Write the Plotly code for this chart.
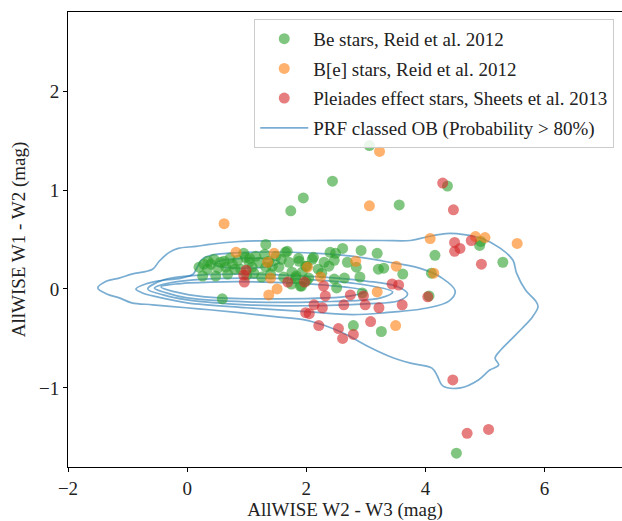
import plotly.graph_objects as go

# ---------------- data ----------------
be_x = [3.06, 2.44, 1.95, 1.74, 3.56, 4.37, 4.52, 0.59, 2.79, 3.26, 5.30, 4.91, 4.93, 4.16, 4.10,
        4.06, 3.62, 3.30, 3.21, 3.19, 2.92, 2.84, 2.90, 2.94, 2.69, 2.61, 2.49, 2.40, 2.47, 2.38,
        2.26, 2.47, 2.64, 2.51, 2.12, 2.01, 1.87, 1.83, 1.92, 1.68, 1.32,
        0.20, 0.28, 0.26, 0.40, 0.48, 0.56, 0.65, 0.62, 0.68, 0.76, 0.98, 1.04, 1.09, 1.15, 1.21,
        1.32, 1.37, 1.43, 1.49, 1.54, 1.65, 1.71, 1.76, 1.82, 1.88, 1.93, 1.99, 2.04, 2.10, 1.90,
        0.34, 0.52, 0.72, 0.85, 0.90, 1.00, 1.12, 1.25, 1.40, 0.95, 1.58, 1.62, 0.45, 0.35, 1.05,
        0.80, 1.30, 2.30, 2.00, 1.75, 2.20]
be_y = [1.45, 1.09, 0.92, 0.79, 0.85, 1.04, -1.66, -0.10, -0.37, -0.43, 0.27, 0.44, 0.48, 0.34, 0.16,
        -0.07, 0.15, 0.21, 0.20, 0.36, 0.39, 0.22, 0.12, -0.04, 0.27, 0.41, 0.36, 0.37, 0.29, 0.23,
        0.16, 0.10, 0.11, 0.01, 0.32, 0.23, 0.31, 0.13, 0.03, 0.38, 0.45,
        0.22, 0.25, 0.13, 0.25, 0.13, 0.27, 0.22, 0.28, 0.15, 0.25, 0.32, 0.27, 0.22, 0.33, 0.27,
        0.22, 0.28, 0.23, 0.33, 0.22, 0.37, 0.27, 0.17, 0.11, 0.28, 0.17, 0.23, 0.11, 0.30, 0.03,
        0.20, 0.21, 0.31, 0.29, 0.20, 0.14, 0.16, 0.12, 0.15, 0.36, 0.30, 0.12, 0.30, 0.28, 0.31,
        0.20, 0.35, 0.27, 0.08, 0.05, 0.20]

bes_x = [3.23, 3.06, 0.62, 4.08, 4.84, 5.00, 5.54, 4.14, 3.51, 2.83, 3.19, 3.50, 2.24, 2.02,
         1.37, 1.51, 1.40, 1.46, 0.82, 1.35]
bes_y = [1.39, 0.84, 0.66, 0.51, 0.53, 0.52, 0.46, 0.16, 0.23, 0.28, -0.03, -0.37, 0.12, 0.22,
         -0.06, 0.00, 0.11, 0.36, 0.37, 0.27]

ple_x = [4.29, 4.47, 4.49, 4.77, 4.58, 4.49, 4.94, 4.46, 4.70, 5.06, 4.04, 3.55, 3.44, 3.61,
         3.22, 2.99, 2.96, 2.74, 2.63, 3.08, 2.79, 2.61, 2.54, 2.21, 2.32, 2.29, 2.13, 2.27,
         1.99, 2.05, 1.97, 1.69, 0.96, 0.95, 0.99]
ple_y = [1.07, 0.80, 0.47, 0.49, 0.41, 0.38, 0.25, -0.92, -1.46, -1.42, -0.08, 0.04, 0.05, -0.16,
         -0.19, -0.16, -0.07, -0.06, -0.16, -0.33, -0.46, -0.50, -0.40, -0.37, -0.07, 0.03, -0.16, -0.19,
         -0.24, -0.25, 0.07, 0.07, 0.07, 0.14, 0.19]

# density contour levels of PRF classed OB
lvl_a_x = [-1.50, -1.35, -1.14, -0.93, -0.58, -0.47, -0.30, -0.15, 0.15, 0.37, 0.87, 2.07, 3.27, 3.75,
           4.05, 4.35, 4.65, 4.95, 5.26, 5.47, 5.53, 5.68, 5.86, 5.89, 5.80, 5.62, 5.44, 5.26, 5.17,
           5.23, 5.08, 4.89, 4.59, 4.29, 4.20, 4.11, 3.75, 3.39, 3.03, 2.67, 2.31, 1.95, 1.47, 0.87,
           0.37, -0.02, -0.58, -0.93, -1.14, -1.35, -1.50]
lvl_a_y = [0.01, 0.08, 0.11, 0.15, 0.20, 0.28, 0.37, 0.41, 0.43, 0.45, 0.48, 0.49, 0.49, 0.49,
           0.53, 0.56, 0.55, 0.51, 0.41, 0.29, 0.16, -0.01, -0.13, -0.18, -0.28, -0.40, -0.51, -0.62, -0.70,
           -0.77, -0.82, -0.92, -1.00, -0.98, -0.88, -0.80, -0.75, -0.68, -0.58, -0.46, -0.37, -0.31, -0.28, -0.24,
           -0.21, -0.19, -0.16, -0.14, -0.09, -0.05, 0.01]
lvl_b_x = [-0.86, -0.70, -0.50, -0.10, 0.10, 0.17, 0.25, 0.40, 1.00, 2.20, 2.80, 3.30, 3.90, 4.28,
           4.50, 4.40, 4.05, 3.33, 2.77, 2.00, 1.00, 0.00, -0.50, -0.75, -0.86]
lvl_b_y = [0.00, 0.05, 0.08, 0.11, 0.15, 0.22, 0.30, 0.34, 0.37, 0.36, 0.33, 0.28, 0.21, 0.11,
           -0.02, -0.12, -0.19, -0.24, -0.26, -0.23, -0.19, -0.14, -0.08, -0.04, 0.00]
lvl_c_x = [-0.66, -0.40, 0.20, 1.00, 2.00, 3.00, 3.50, 3.70, 3.55, 3.00, 2.00, 1.00, 0.00, -0.40, -0.66]
lvl_c_y = [0.00, 0.09, 0.14, 0.15, 0.13, 0.08, 0.03, -0.05, -0.12, -0.15, -0.17, -0.16, -0.11, -0.06, 0.00]
lvl_d_x = [-0.55, -0.30, 0.30, 1.20, 2.20, 3.00, 3.45, 3.25, 2.20, 1.00, 0.00, -0.35, -0.55]
lvl_d_y = [0.01, 0.06, 0.10, 0.11, 0.09, 0.04, -0.03, -0.09, -0.13, -0.13, -0.09, -0.04, 0.01]
lvl_e_x = [-0.44, -0.20, 0.40, 1.30, 2.30, 3.00, 2.75, 1.50, 0.30, -0.20, -0.44]
lvl_e_y = [0.02, 0.05, 0.07, 0.07, 0.04, -0.02, -0.07, -0.10, -0.08, -0.03, 0.02]
lvl_f_x = [0.45, 0.60, 1.00, 1.40, 1.55, 1.40, 1.00, 0.60, 0.45]
lvl_f_y = [0.25, 0.29, 0.31, 0.30, 0.27, 0.23, 0.21, 0.22, 0.25]

levels = [(lvl_a_x, lvl_a_y), (lvl_b_x, lvl_b_y), (lvl_c_x, lvl_c_y),
          (lvl_d_x, lvl_d_y), (lvl_e_x, lvl_e_y), (lvl_f_x, lvl_f_y)]

FONT = "Liberation Serif"
FS = 19
CONTOUR_COLOR = "rgba(31,119,180,0.6)"

fig = go.Figure()

for i, (lx, ly) in enumerate(levels):
    fig.add_trace(go.Scatter(
        x=lx, y=ly, mode="lines",
        line=dict(color=CONTOUR_COLOR, width=1.7, shape="spline", smoothing=1.0),
        name="PRF classed OB (Probability > 80%)",
        legendgroup="prf", showlegend=(i == 0), legendrank=4, hoverinfo="skip"))

def pts(x, y, color, name, rank):
    fig.add_trace(go.Scatter(
        x=x, y=y, mode="markers", name=name, legendgroup=name, legendrank=rank,
        marker=dict(color=color, size=11, opacity=0.6, line=dict(width=0))))

pts(be_x, be_y, "#2ca02c", "Be stars, Reid et al. 2012", 1)
pts(bes_x, bes_y, "#ff7f0e", "B[e] stars, Reid et al. 2012", 2)
pts(ple_x, ple_y, "#d62728", "Pleiades effect stars, Sheets et al. 2013", 3)

axis_common = dict(showline=True, linecolor="black", linewidth=1, mirror=True,
                   ticks="outside", ticklen=4, tickcolor="black", showgrid=False,
                   zeroline=False, automargin=False,
                   tickfont=dict(family=FONT, size=FS, color="#222"),
                   title_font=dict(family=FONT, size=FS, color="#222"))

fig.update_layout(
    width=622, height=521,
    margin=dict(l=68, r=0, t=12, b=54),
    plot_bgcolor="white", paper_bgcolor="white",
    font=dict(family=FONT, size=FS, color="#222"),
    xaxis=dict(range=[-2, 7.3], dtick=2, title=dict(text="AllWISE W2 - W3 (mag)", standoff=2),
               **axis_common),
    yaxis=dict(range=[-1.8, 2.8], dtick=1, title=dict(text="AllWISE W1 - W2 (mag)", standoff=8),
               **axis_common),
    legend=dict(x=0.986, y=0.985, xanchor="right", yanchor="top",
                bgcolor="rgba(255,255,255,0.85)", bordercolor="#cccccc", borderwidth=1,
                font=dict(family=FONT, size=FS, color="#222"),
                traceorder="grouped", tracegroupgap=2, itemwidth=48),
    showlegend=True,
)

fig.write_html("out.html", config={"displayModeBar": False},
               post_script="document.body.style.margin='0px';")
